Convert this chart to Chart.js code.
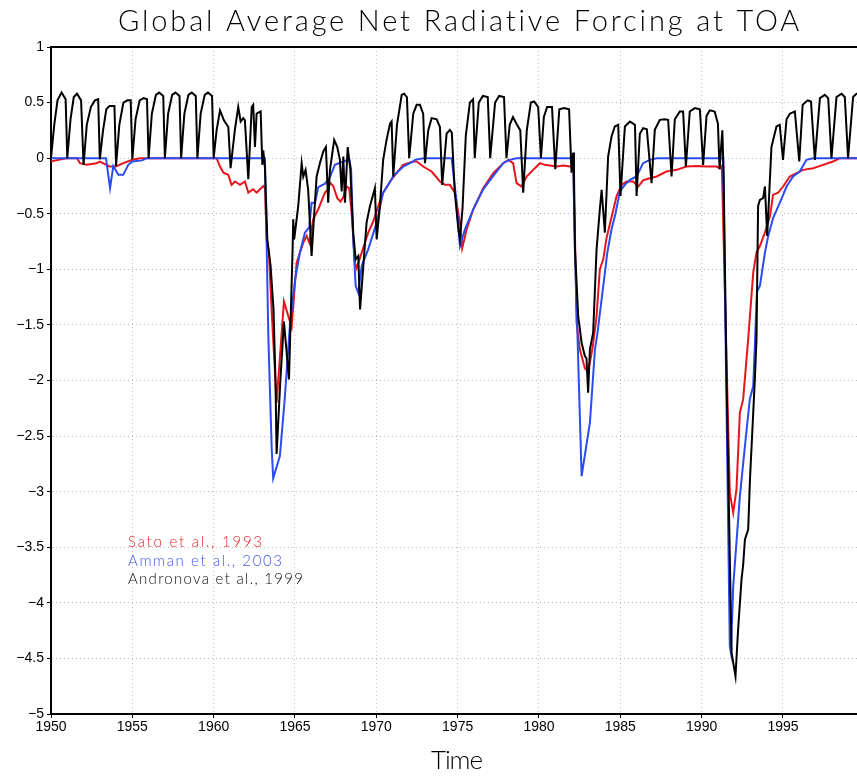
<!DOCTYPE html>
<html>
<head>
<meta charset="utf-8">
<script src="https://cdn.jsdelivr.net/npm/chart.js@4.4.0/dist/chart.umd.min.js"></script>
<style>
html,body{margin:0;padding:0;background:#fff;}
#wrap{width:857px;height:776px;position:relative;}
</style>
</head>
<body>
<div id="wrap"><canvas id="c" width="857" height="776"></canvas></div>
<script>
// ---------------- data ----------------
const chartTitle = 'Global Average Net Radiative Forcing at TOA';
const xAxisTitle = 'Time';
const seriesNames = ['Sato et al., 1993', 'Amman et al., 2003', 'Andronova et al., 1999'];

const xTickValues = [1950, 1955, 1960, 1965, 1970, 1975, 1980, 1985, 1990, 1995];
const yTickValues = [-5, -4.5, -4, -3.5, -3, -2.5, -2, -1.5, -1, -0.5, 0, 0.5, 1];
const yTickLabels = ['\u22125', '\u22124.5', '\u22124', '\u22123.5', '\u22123', '\u22122.5', '\u22122', '\u22121.5', '\u22121', '\u22120.5', '0', '0.5', '1'];
const xMin = 1950, xMax = 1999.55, yMin = -5, yMax = 1;

const satoYears = [1950.0,1950.3,1950.95,1951.6,1951.78,1952.19,1952.8,1953.0,1953.6,1954.0,1954.45,1955.0,1955.47,1960.18,1960.39,1960.6,1960.9,1961.1,1961.31,1961.62,1961.92,1962.13,1962.43,1962.64,1962.85,1963.05,1963.15,1963.26,1963.4,1963.56,1963.87,1964.32,1964.79,1965.1,1965.51,1965.72,1965.88,1966.12,1966.43,1966.84,1967.04,1967.15,1967.35,1967.6,1967.8,1967.97,1968.17,1968.33,1968.48,1968.68,1968.79,1969.1,1969.5,1969.81,1970.12,1970.42,1970.94,1971.65,1972.27,1972.48,1972.88,1973.4,1973.91,1974.22,1974.52,1974.83,1975.14,1975.28,1975.55,1975.96,1976.57,1977.19,1977.8,1978.11,1978.41,1978.62,1978.93,1979.24,1979.64,1980.06,1980.36,1981.08,1981.5,1981.9,1982.1,1982.2,1982.31,1982.51,1982.82,1983.02,1983.3,1983.54,1983.74,1983.95,1984.15,1984.77,1985.08,1985.38,1985.79,1986.1,1986.4,1986.81,1987.23,1987.84,1988.46,1989.07,1989.69,1990.3,1990.91,1991.12,1991.24,1991.73,1991.94,1992.14,1992.35,1992.55,1992.86,1993.17,1993.37,1993.58,1993.89,1994.2,1994.39,1994.7,1995.01,1995.42,1995.83,1996.24,1996.85,1997.47,1998.08,1998.5,1999.55];
const satoVals = [-0.03,-0.02,0,0,-0.045,-0.06,-0.045,-0.03,-0.075,-0.075,-0.045,-0.015,0,0,-0.075,-0.13,-0.15,-0.24,-0.21,-0.24,-0.21,-0.31,-0.28,-0.31,-0.28,-0.25,-0.27,-0.73,-0.85,-1.36,-2.2,-1.29,-1.52,-0.94,-0.76,-0.70,-0.76,-0.55,-0.46,-0.31,-0.28,-0.22,-0.25,-0.36,-0.39,-0.35,-0.255,-0.27,-0.49,-0.94,-0.99,-0.85,-0.67,-0.57,-0.43,-0.31,-0.19,-0.06,-0.03,-0.03,-0.075,-0.12,-0.21,-0.24,-0.24,-0.31,-0.58,-0.81,-0.64,-0.46,-0.27,-0.135,-0.045,-0.015,-0.045,-0.225,-0.255,-0.165,-0.105,-0.045,-0.06,-0.075,-0.065,-0.075,-0.08,-0.6,-1.48,-1.72,-1.89,-1.92,-1.7,-1.42,-1.0,-0.91,-0.72,-0.34,-0.24,-0.21,-0.21,-0.255,-0.2,-0.18,-0.165,-0.12,-0.105,-0.075,-0.07,-0.075,-0.075,-0.09,-0.07,-3.01,-3.19,-2.98,-2.29,-2.17,-1.63,-1.03,-0.85,-0.79,-0.67,-0.52,-0.33,-0.31,-0.255,-0.165,-0.135,-0.105,-0.09,-0.06,-0.03,0,0];

const ammanYears = [1950,1953.38,1953.63,1953.83,1954.14,1954.44,1954.75,1955.0,1955.6,1955.9,1963.15,1963.26,1963.36,1963.57,1963.66,1964.07,1964.35,1964.69,1964.79,1965.0,1965.3,1965.61,1965.88,1966.02,1966.23,1966.43,1966.84,1967.15,1967.45,1967.97,1968.34,1968.45,1968.58,1968.73,1968.89,1969.1,1969.5,1970.02,1970.42,1970.94,1971.04,1971.56,1971.65,1972.27,1972.37,1972.9,1974.63,1974.9,1975.14,1975.45,1975.96,1976.57,1977.19,1977.8,1978.2,1978.62,1982.1,1982.21,1982.62,1983.13,1983.44,1983.58,1983.95,1984.2,1984.46,1984.7,1984.97,1985.28,1985.59,1986.0,1986.4,1986.81,1987.23,1991.32,1991.73,1991.8,1991.94,1992.35,1992.66,1992.96,1993.17,1993.4,1993.58,1993.89,1994.09,1994.39,1994.81,1995.22,1995.62,1996.03,1996.44,1996.85,1999.55];
const ammanVals = [0,0,-0.27,-0.07,-0.15,-0.15,-0.06,-0.03,-0.02,0,0,-0.8,-1.6,-2.62,-2.88,-2.68,-2.2,-1.5,-1.36,-1.1,-0.85,-0.67,-0.62,-0.40,-0.40,-0.26,-0.23,-0.17,-0.06,-0.03,-0.01,-0.1,-0.73,-1.15,-1.21,-0.97,-0.82,-0.58,-0.31,-0.19,-0.16,-0.09,-0.075,-0.03,-0.015,0,0,-0.35,-0.79,-0.64,-0.46,-0.28,-0.16,-0.045,-0.015,0,0,-0.82,-2.86,-2.38,-1.72,-1.59,-1.15,-0.85,-0.64,-0.5,-0.3,-0.24,-0.195,-0.165,-0.045,-0.015,0,0,-4.39,-4.45,-3.85,-3.04,-2.59,-2.17,-2.05,-1.2,-1.15,-0.85,-0.70,-0.54,-0.40,-0.255,-0.165,-0.12,-0.015,0,0];

const andronovaYears = [1950.0,1950.2,1950.4,1950.65,1950.9,1951.0,1951.2,1951.4,1951.6,1951.85,1952.0,1952.2,1952.45,1952.7,1952.9,1953.0,1953.2,1953.4,1953.6,1953.9,1954.0,1954.2,1954.45,1954.7,1954.9,1955.0,1955.2,1955.45,1955.7,1955.9,1956.0,1956.2,1956.45,1956.65,1956.9,1957.0,1957.2,1957.45,1957.65,1957.9,1958.0,1958.2,1958.45,1958.65,1958.9,1959.0,1959.2,1959.45,1959.65,1959.9,1960.0,1960.18,1960.39,1960.63,1960.9,1961.04,1961.3,1961.51,1961.66,1961.82,1961.92,1962.13,1962.34,1962.43,1962.54,1962.64,1962.89,1962.99,1963.05,1963.15,1963.3,1963.5,1963.68,1963.8,1963.87,1964.1,1964.32,1964.63,1964.85,1964.89,1964.95,1965.2,1965.41,1965.51,1965.65,1965.81,1966.02,1966.16,1966.33,1966.53,1966.74,1966.9,1967.04,1967.15,1967.41,1967.6,1967.76,1967.87,1967.97,1968.07,1968.24,1968.4,1968.58,1968.73,1968.89,1969.0,1969.2,1969.4,1969.61,1969.91,1970.02,1970.22,1970.42,1970.63,1970.84,1970.94,1971.04,1971.27,1971.56,1971.7,1971.88,1972.02,1972.27,1972.48,1972.68,1972.88,1972.99,1973.19,1973.4,1973.71,1973.91,1974.05,1974.32,1974.52,1974.64,1974.82,1975.03,1975.14,1975.3,1975.5,1975.75,1975.95,1976.05,1976.3,1976.55,1976.85,1977.0,1977.3,1977.55,1977.85,1978.0,1978.2,1978.4,1978.65,1978.85,1979.03,1979.25,1979.5,1979.7,1979.95,1980.12,1980.3,1980.5,1980.8,1981.0,1981.25,1981.55,1981.85,1982.0,1982.1,1982.15,1982.21,1982.41,1982.62,1982.82,1982.92,1983.02,1983.13,1983.33,1983.54,1983.74,1983.85,1984.05,1984.25,1984.46,1984.66,1984.87,1985.01,1985.28,1985.59,1985.9,1986.0,1986.2,1986.4,1986.63,1986.92,1987.12,1987.43,1987.73,1987.94,1988.15,1988.35,1988.66,1988.86,1989.03,1989.27,1989.58,1989.89,1990.09,1990.3,1990.5,1990.8,1991.0,1991.1,1991.27,1991.35,1991.53,1991.84,1992.08,1992.24,1992.45,1992.55,1992.66,1992.86,1992.97,1993.17,1993.27,1993.37,1993.47,1993.58,1993.78,1993.89,1994.03,1994.29,1994.6,1994.8,1995.0,1995.22,1995.42,1995.73,1996.0,1996.21,1996.52,1996.72,1996.96,1997.27,1997.57,1997.78,1997.98,1998.29,1998.6,1998.8,1999.0,1999.31,1999.52,1999.55];
const andronovaVals = [0,0.30,0.52,0.59,0.53,0,0.35,0.55,0.58,0.52,-0.06,0.30,0.46,0.52,0.53,-0.01,0.25,0.44,0.47,0.47,-0.07,0.30,0.50,0.52,0.52,-0.01,0.35,0.52,0.54,0.53,0,0.40,0.57,0.59,0.56,0,0.40,0.57,0.59,0.56,0,0.40,0.57,0.59,0.56,0,0.40,0.57,0.59,0.56,0,0.25,0.43,0.34,0.28,-0.09,0.25,0.46,0.33,0.36,0.34,-0.19,0.46,0.48,0.10,0.40,0.42,-0.06,0.07,-0.08,-0.73,-0.97,-1.36,-2.0,-2.66,-2.0,-1.47,-1.99,-0.83,-0.55,-0.73,-0.43,-0.045,-0.165,-0.105,-0.285,-0.88,-0.55,-0.165,-0.045,0.06,0.10,-0.40,-0.105,0.165,0.10,-0.015,-0.3,0.015,-0.40,0.10,-0.1,-0.67,-0.91,-0.88,-1.36,-0.97,-0.58,-0.43,-0.27,-0.73,-0.43,-0.015,0.165,0.31,0.33,-0.165,0.30,0.57,0.58,0.55,0.0,0.40,0.48,0.48,0.40,-0.045,0.25,0.36,0.35,0.28,-0.24,0.22,0.255,0.23,-0.3,-0.62,-0.73,-0.45,0.2,0.5,0.53,0.0,0.5,0.56,0.55,0.0,0.5,0.56,0.55,0.0,0.3,0.37,0.3,0.25,-0.31,0.25,0.5,0.51,0.46,0.0,0.37,0.46,0.46,-0.1,0.44,0.45,0.44,-0.13,0.05,-0.1,-0.82,-1.42,-1.66,-1.78,-1.8,-2.11,-1.72,-1.57,-0.82,-0.46,-0.285,-0.67,0.015,0.195,0.285,0.30,-0.34,0.285,0.33,0.30,-0.34,0.22,0.27,0.26,-0.225,0.255,0.345,0.35,0.345,-0.165,0.35,0.42,0.42,-0.075,0.42,0.45,0.44,-0.06,0.38,0.43,0.42,0.31,-0.1,0.25,-0.135,-1.99,-4.45,-4.66,-4.24,-3.79,-3.66,-3.43,-3.34,-2.89,-2.29,-1.99,-1.63,-0.43,-0.375,-0.36,-0.255,-0.70,0.10,0.285,0.30,-0.015,0.35,0.40,0.42,-0.03,0.48,0.52,0.51,-0.015,0.54,0.57,0.54,0,0.55,0.58,0.55,0,0.55,0.58,0.58];

// ---------------- styling ----------------
const colSato = '#e8141c';
const colAmman = '#2a4cf0';
const colAndr = '#000000';

function pts(xs, ys) { return xs.map((x, i) => ({x: x, y: ys[i]})); }

function drawSpaced(ctx, text, x, y, width, font, color, align) {
  ctx.save();
  ctx.font = font;
  ctx.fillStyle = color;
  if ('letterSpacing' in ctx) ctx.letterSpacing = '0px';
  const w = ctx.measureText(text).width;
  const n = text.length;
  if ('letterSpacing' in ctx && n > 1) ctx.letterSpacing = ((width - w) / (n - 1)).toFixed(2) + 'px';
  ctx.textAlign = 'left';
  ctx.textBaseline = 'alphabetic';
  const sx = align === 'center' ? x - width / 2 : x;
  ctx.fillText(text, sx, y);
  ctx.restore();
}

const decor = {
  id: 'decor',
  beforeDraw(chart) {
    const ctx = chart.ctx;
    ctx.save();
    ctx.fillStyle = '#ffffff';
    ctx.fillRect(0, 0, chart.width, chart.height);
    ctx.restore();
  },
  afterDraw(chart) {
    const ctx = chart.ctx;
    const a = chart.chartArea;
    ctx.save();
    ctx.strokeStyle = '#000';
    ctx.lineWidth = 2;
    ctx.beginPath();
    ctx.moveTo(a.left - 1, a.top);
    ctx.lineTo(a.right, a.top);
    ctx.stroke();
    ctx.restore();
    const thin = '300 29px Lato, "Open Sans", "Liberation Sans", sans-serif';
    drawSpaced(ctx, chartTitle, 459, 31, 682, thin, '#000', 'center');
    drawSpaced(ctx, xAxisTitle, 457, 769, 52, '300 26px Lato, "Open Sans", "Liberation Sans", sans-serif', '#000', 'center');
    const lf = '300 15px Lato, "Open Sans", "Liberation Sans", sans-serif';
    drawSpaced(ctx, seriesNames[0], 128, 547, 134, lf, '#e3262d', 'left');
    drawSpaced(ctx, seriesNames[1], 128, 566, 154, lf, '#3f57e8', 'left');
    drawSpaced(ctx, seriesNames[2], 128, 584, 175, lf, '#111', 'left');
  }
};

const tickFont = {family: '"Liberation Sans", Arial, Helvetica, sans-serif', size: 14};

new Chart(document.getElementById('c'), {
  type: 'line',
  data: {
    datasets: [
      {label: seriesNames[0], data: pts(satoYears, satoVals), borderColor: colSato, borderWidth: 2, pointRadius: 0, tension: 0, fill: false, order: 3},
      {label: seriesNames[1], data: pts(ammanYears, ammanVals), borderColor: colAmman, borderWidth: 2, pointRadius: 0, tension: 0, fill: false, order: 2},
      {label: seriesNames[2], data: pts(andronovaYears, andronovaVals), borderColor: colAndr, borderWidth: 2, pointRadius: 0, tension: 0, fill: false, order: 1}
    ]
  },
  options: {
    responsive: false,
    animation: false,
    devicePixelRatio: 1,
    layout: {padding: {top: 47, right: 0, left: 0, bottom: 0}},
    plugins: {legend: {display: false}, title: {display: false}, tooltip: {enabled: false}},
    scales: {
      x: {
        type: 'linear', min: xMin, max: xMax,
        afterBuildTicks: s => { s.ticks = xTickValues.map(v => ({value: v})); },
        afterFit: s => { s.height = 62; },
        ticks: {font: tickFont, color: '#000', padding: 1, maxRotation: 0, autoSkip: false, callback: v => String(v)},
        grid: {color: '#bdbdbd', lineWidth: 1, drawTicks: true, tickLength: 4, tickColor: '#000', tickWidth: 1},
        border: {display: true, color: '#000', width: 2, dash: [1, 3]}
      },
      y: {
        type: 'linear', min: yMin, max: yMax,
        afterBuildTicks: s => { s.ticks = yTickValues.map(v => ({value: v})); },
        afterFit: s => { s.width = 51; },
        ticks: {font: {family: tickFont.family, size: 14}, color: '#000', padding: 3, autoSkip: false, callback: v => yTickLabels[yTickValues.indexOf(v)]},
        grid: {color: '#bdbdbd', lineWidth: 1, drawTicks: true, tickLength: 4, tickColor: '#000', tickWidth: 1},
        border: {display: true, color: '#000', width: 2, dash: [1, 3]}
      }
    }
  },
  plugins: [decor]
});
</script>
</body>
</html>
